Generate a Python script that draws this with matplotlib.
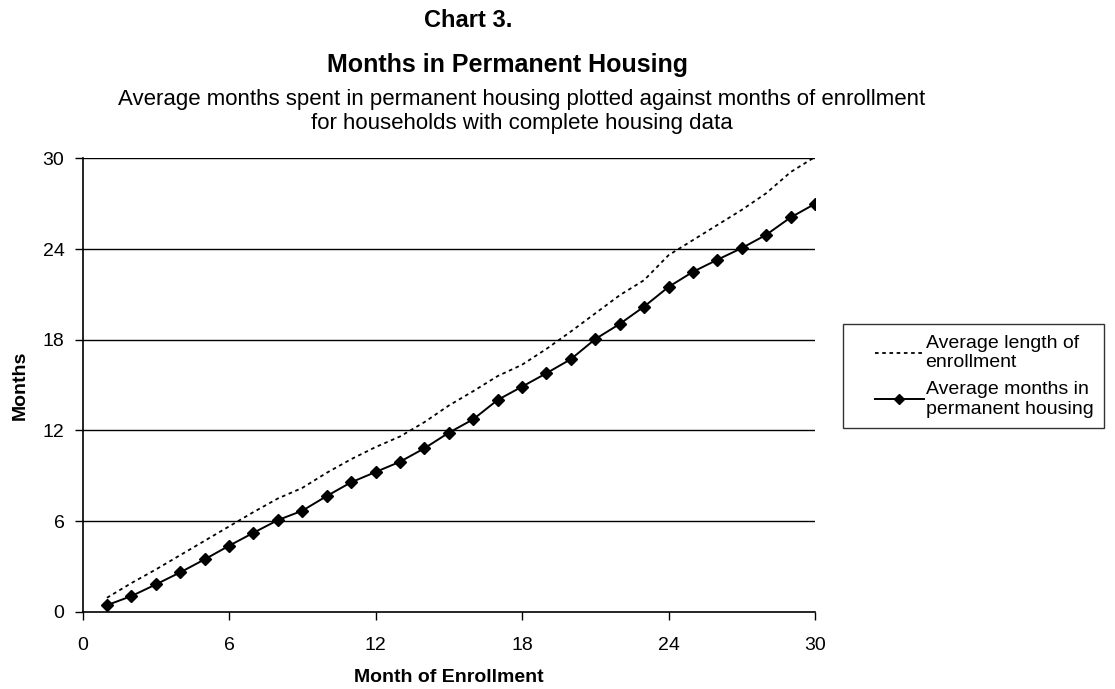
import matplotlib
matplotlib.use("Agg")
import matplotlib.pyplot as plt
from matplotlib.legend_handler import HandlerLine2D
import numpy as np

plt.rcParams['font.family'] = ['Liberation Sans', 'DejaVu Sans']

# months of enrollment 1..30
months = list(range(1, 31))

# average length of enrollment (dotted line)
enroll_len = [0.93, 1.9, 2.8, 3.75, 4.7, 5.65, 6.6, 7.5, 8.2, 9.2,
              10.1, 10.9, 11.6, 12.55, 13.65, 14.6, 15.6, 16.35, 17.4, 18.55,
              19.75, 20.95, 21.95, 23.6, 24.6, 25.6, 26.6, 27.7, 29.1, 30.1]

# average months in permanent housing (solid line with diamonds)
perm_housing = [0.44, 1.04, 1.81, 2.61, 3.47, 4.37, 5.23, 6.07, 6.69, 7.66,
                8.57, 9.25, 9.93, 10.82, 11.85, 12.74, 14.02, 14.9, 15.79, 16.72,
                18.05, 19.05, 20.2, 21.5, 22.5, 23.3, 24.07, 24.95, 26.1, 27.0]

xticks = [0, 6, 12, 18, 24, 30]
yticks = [0, 6, 12, 18, 24, 30]


class ShortLineHandler(HandlerLine2D):
    # legend sample drawn only on the right part of the handle box
    def get_xdata(self, legend, xdescent, ydescent, width, height, fontsize):
        start = -xdescent + width * 0.3
        end = -xdescent + width
        return np.array([start, end]), np.array([(start + end) / 2])


fig = plt.figure(figsize=(11.15, 6.89), dpi=100)
ax = fig.add_axes([0.074, 0.112, 0.657, 0.658])

for y in yticks[1:]:
    ax.axhline(y, color='black', linewidth=1.0, zorder=1)

l1, = ax.plot(months, enroll_len, color='black', linestyle=(0, (2, 2)), linewidth=1.3,
              label='Average length of\nenrollment', zorder=2)
l2, = ax.plot(months, perm_housing, color='black', linewidth=1.4, marker='D', markersize=6,
              label='Average months in\npermanent housing', zorder=3)

ax.set_xlim(0, 30)
ax.set_ylim(0, 30)
ax.set_xticks(xticks)
ax.set_yticks(yticks)
ax.tick_params(axis='both', labelsize=14, direction='out', length=6, width=1)
ax.tick_params(axis='x', pad=12)
ax.tick_params(axis='y', pad=7)
ax.spines['top'].set_visible(False)
ax.spines['right'].set_visible(False)
ax.spines['left'].set_linewidth(1.2)
ax.spines['bottom'].set_linewidth(1.2)

ax.set_xlabel('Month of Enrollment', fontsize=14, fontweight='bold', labelpad=11)
ax.set_ylabel('Months', fontsize=14, fontweight='bold', labelpad=10)

fig.text(0.420, 0.970, 'Chart 3.', ha='center', va='center', fontsize=17, fontweight='bold')
fig.text(0.455, 0.905, 'Months in Permanent Housing', ha='center', va='center',
         fontsize=18, fontweight='bold')
fig.text(0.468, 0.838, 'Average months spent in permanent housing plotted against months of enrollment\nfor households with complete housing data',
         ha='center', va='center', fontsize=16, linespacing=1.2)

leg = ax.legend(handles=[l1, l2], loc='center left', bbox_to_anchor=(1.038, 0.52),
                fontsize=14, frameon=True, fancybox=False, edgecolor='black',
                borderpad=0.55, handlelength=3.6, handletextpad=0.1, labelspacing=0.5,
                borderaxespad=0,
                handler_map={l1: ShortLineHandler(), l2: ShortLineHandler()})
leg.get_frame().set_linewidth(1.0)
for h in leg.legend_handles:
    h.set_markersize(5)

fig.savefig('out.png', dpi=100)
